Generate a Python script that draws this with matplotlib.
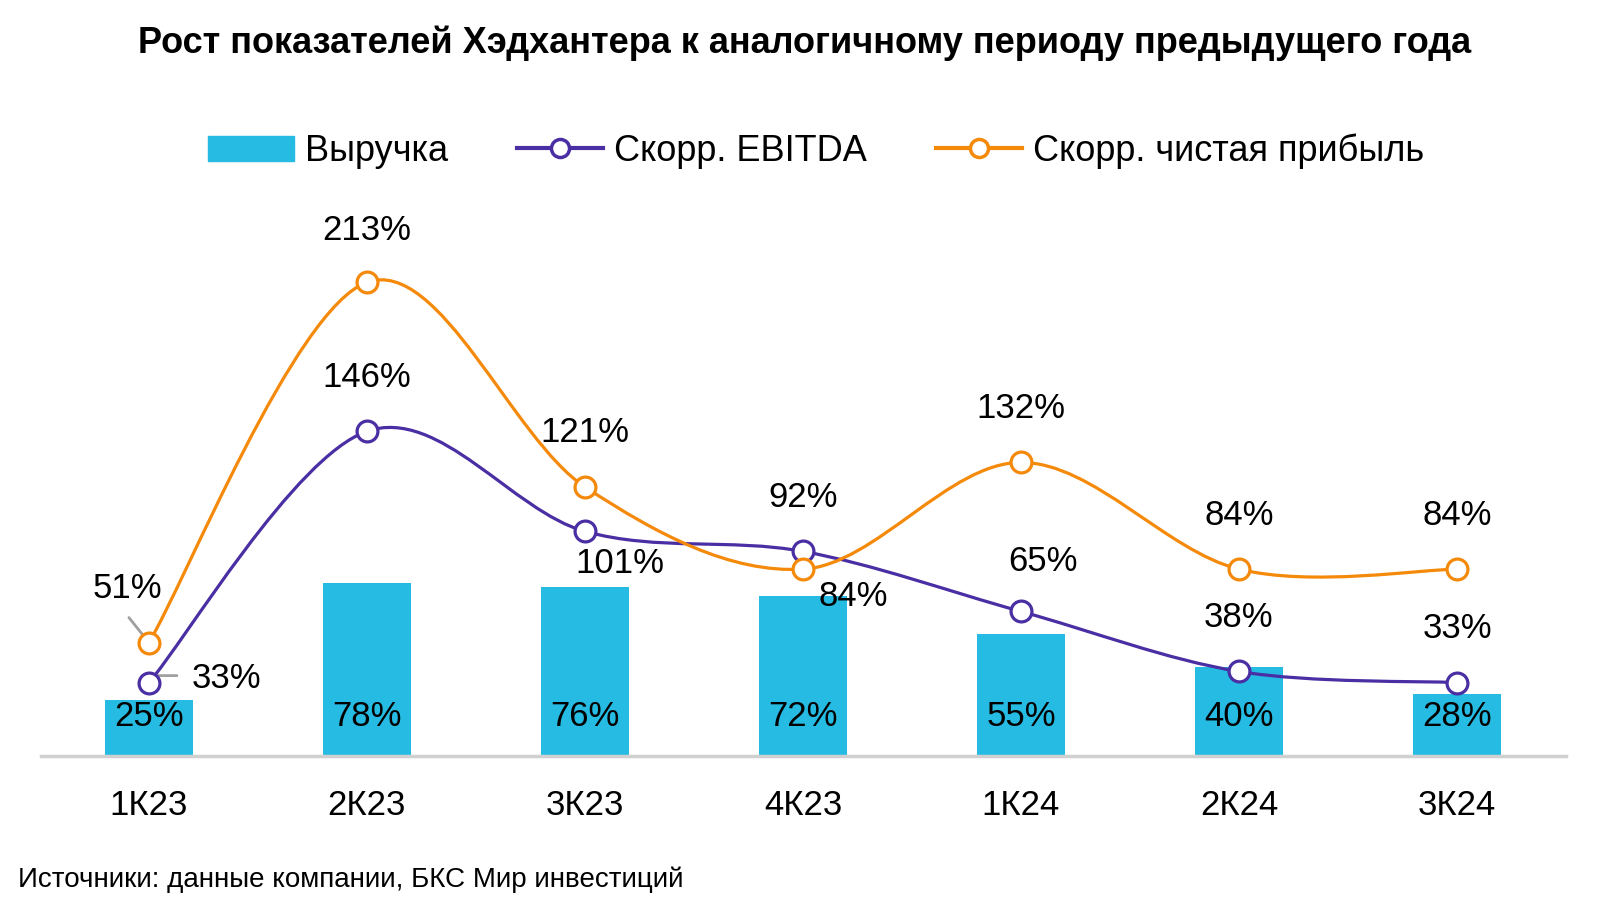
import matplotlib.pyplot as plt
import matplotlib.font_manager as fm
from matplotlib.path import Path
from matplotlib.patches import PathPatch, Patch
from matplotlib.lines import Line2D

# Data
quarters = ['1К23', '2К23', '3К23', '4К23', '1К24', '2К24', '3К24']
revenue = [25, 78, 76, 72, 55, 40, 28]
ebitda = [33, 146, 101, 92, 65, 38, 33]
net_profit = [51, 213, 121, 84, 132, 84, 84]

fonts = ['Liberation Sans', 'DejaVu Sans']

c_bar = '#25BBE3'
c_ebitda = '#4A2EA3'
c_net = '#F5890A'
c_leader = '#A0A0A0'


def smooth_path(xs, ys):
    # Excel-like smoothing: cubic Bezier segments, Catmull-Rom control points
    pts = list(zip(xs, ys))
    verts = [pts[0]]
    codes = [Path.MOVETO]
    n = len(pts)
    for i in range(n - 1):
        p0 = pts[i - 1] if i > 0 else pts[i]
        p1 = pts[i]
        p2 = pts[i + 1]
        p3 = pts[i + 2] if i + 2 < n else pts[i + 1]
        c1 = (p1[0] + (p2[0] - p0[0]) / 6, p1[1] + (p2[1] - p0[1]) / 6)
        c2 = (p2[0] - (p3[0] - p1[0]) / 6, p2[1] - (p3[1] - p1[1]) / 6)
        verts += [c1, c2, p2]
        codes += [Path.CURVE4] * 3
    return Path(verts, codes)


fig = plt.figure(figsize=(16, 9.11), dpi=100)
ax = fig.add_axes([41 / 1600, 155 / 911, 1525 / 1600, 556 / 911])
x = list(range(len(quarters)))

ax.bar(x, revenue, width=0.4, color=c_bar, zorder=1)
for xi, v in zip(x, revenue):
    ax.annotate(f'{v}%', (xi, 0), xytext=(0, 39), textcoords='offset pixels',
                ha='center', va='center', fontsize=25, family=fonts, zorder=5)

for vals, col in [(ebitda, c_ebitda), (net_profit, c_net)]:
    ax.add_patch(PathPatch(smooth_path(x, vals), facecolor='none', edgecolor=col,
                           lw=2.3, zorder=3))
    ax.plot(x, vals, 'o', ms=15, mfc='white', mec=col, mew=2.3, zorder=4)

# label offsets in pixels (dx, dy)
ebitda_off = [(78, 4), (0, 54), (35, -32), (0, 54), (22, 50), (0, 54), (0, 54)]
net_off = [(-22, 54), (0, 52), (0, 54), (50, -27), (0, 54), (0, 54), (0, 54)]
for vals, offs in [(ebitda, ebitda_off), (net_profit, net_off)]:
    for xi, v, (dx, dy) in zip(x, vals, offs):
        ax.annotate(f'{v}%', (xi, v), xytext=(dx, dy), textcoords='offset pixels',
                    ha='center', va='center', fontsize=25, family=fonts, zorder=5)

# leader lines for 1K23
ax.annotate('', (0, net_profit[0]), xytext=(-20, 25), textcoords='offset pixels',
            arrowprops=dict(arrowstyle='-', color=c_leader, lw=2, shrinkA=0, shrinkB=0))
ax.annotate('', (0, ebitda[0]), xytext=(28, 7), textcoords='offset pixels',
            arrowprops=dict(arrowstyle='-', color=c_leader, lw=2, shrinkA=0, shrinkB=0,
                            connectionstyle='angle,angleA=0,angleB=45,rad=0'))

ax.set_xlim(-0.495, 6.5)
ax.set_ylim(0, 250)
for s in ['top', 'right', 'left']:
    ax.spines[s].set_visible(False)
ax.spines['bottom'].set_color('#D0D0D0')
ax.spines['bottom'].set_linewidth(2.5)
ax.set_yticks([])
ax.set_xticks(x)
ax.set_xticklabels(quarters, fontsize=25, family=fonts)
ax.tick_params(axis='x', length=0, pad=24)

fig.text(0.503, 0.953, 'Рост показателей Хэдхантера к аналогичному периоду предыдущего года',
         ha='center', va='center', fontsize=26, fontweight='bold', family=fonts)

handles = [Patch(facecolor=c_bar, edgecolor=c_bar),
           Line2D([], [], color=c_ebitda, lw=3, marker='o', ms=13, mfc='white', mew=2.5),
           Line2D([], [], color=c_net, lw=3, marker='o', ms=13, mfc='white', mew=2.5)]
labels = ['Выручка', 'Скорр. EBITDA', 'Скорр. чистая прибыль']
fig.legend(handles, labels, loc='center', bbox_to_anchor=(0.51, 0.834), ncol=3,
           frameon=False, prop=fm.FontProperties(family=fonts, size=26),
           handlelength=2.4, handletextpad=0.3, columnspacing=1.9)

fig.text(18 / 1600, 1 - 880 / 911, 'Источники: данные компании, БКС Мир инвестиций',
         ha='left', va='center', fontsize=20, family=fonts)

fig.savefig('out.png', dpi=100)
